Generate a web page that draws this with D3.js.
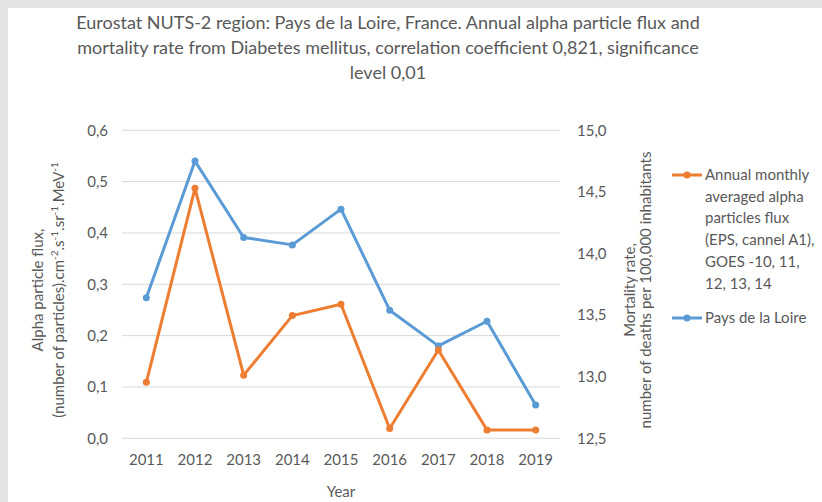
<!DOCTYPE html>
<html>
<head>
<meta charset="utf-8">
<script src="https://cdn.jsdelivr.net/npm/d3@7"></script>
<style>
  body { margin: 0; background: #ffffff; }
  svg text { font-family: Lato, "Open Sans", sans-serif; fill: #595959; }
</style>
</head>
<body>
<div id="chart"></div>
<script>
// DADOS
var years = ["2011", "2012", "2013", "2014", "2015", "2016", "2017", "2018", "2019"];
var alphaFlux = [0.109, 0.487, 0.123, 0.239, 0.261, 0.019, 0.172, 0.016, 0.016];
var mortality = [13.64, 14.75, 14.13, 14.07, 14.36, 13.54, 13.25, 13.45, 12.77];
var leftTicks = [0, 0.1, 0.2, 0.3, 0.4, 0.5, 0.6];
var rightTicks = [12.5, 13.0, 13.5, 14.0, 14.5, 15.0];
var titleLines = [
    "Eurostat NUTS-2 region: Pays de la Loire, France. Annual alpha particle flux and",
    "mortality rate from Diabetes mellitus, correlation coefficient 0,821, significance",
    "level 0,01"
];
var legendOrange = ["Annual monthly", "averaged alpha", "particles flux", "(EPS, cannel A1),", "GOES -10, 11,", "12, 13, 14"];
var legendBlue = "Pays de la Loire";

var W = 822, H = 502;
var orange = "#ED7D31", blue = "#5B9BD5";
var fmt = function (v) { return d3.format(".1f")(v).replace(".", ","); };

let svg = d3.select("#chart").append("svg").attr("width", W).attr("height", H);

// MOLDURA CINZENTA (topo e esquerda)
svg.append("rect").attr("width", W).attr("height", H).attr("fill", "#e3e3e3");
svg.append("rect").attr("x", 8).attr("y", 8).attr("width", W - 8).attr("height", H - 8).attr("fill", "#ffffff");

let plot = { left: 122, right: 560, top: 130.3, bottom: 438.3 };

let x = d3.scaleBand().domain(years).range([plot.left, plot.right]);
let yL = d3.scaleLinear().domain([0, 0.6]).range([plot.bottom, plot.top]);
let yR = d3.scaleLinear().domain([12.5, 15]).range([plot.bottom, plot.top]);

// TITULO
svg.append("g").selectAll("text").data(titleLines).join("text")
    .attr("x", 388)
    .attr("y", function (d, i) { return 29 + i * 25; })
    .attr("text-anchor", "middle")
    .attr("font-size", "18px")
    .text(function (d) { return d; });

// GRELHA
svg.append("g").selectAll("line").data(leftTicks).join("line")
    .attr("x1", plot.left).attr("x2", plot.right)
    .attr("y1", function (d) { return yL(d); }).attr("y2", function (d) { return yL(d); })
    .attr("stroke", "#d9d9d9").attr("stroke-width", 1);

// EIXO ESQUERDO
let axL = svg.append("g").attr("transform", "translate(" + plot.left + ",0)")
    .call(d3.axisLeft(yL).tickValues(leftTicks).tickFormat(fmt).tickSize(0).tickPadding(14));
axL.select(".domain").remove();
axL.selectAll("text").attr("font-size", "15px").style("font-family", "Lato, sans-serif").attr("fill", "#595959");

// EIXO DIREITO
let axR = svg.append("g").attr("transform", "translate(" + plot.right + ",0)")
    .call(d3.axisRight(yR).tickValues(rightTicks).tickFormat(fmt).tickSize(0).tickPadding(17));
axR.select(".domain").remove();
axR.selectAll("text").attr("font-size", "15px").style("font-family", "Lato, sans-serif").attr("fill", "#595959");

// EIXO X
let axX = svg.append("g").attr("transform", "translate(0," + plot.bottom + ")")
    .call(d3.axisBottom(x).tickSize(0).tickPadding(16));
axX.select(".domain").remove();
axX.selectAll("text").attr("font-size", "15px").style("font-family", "Lato, sans-serif").attr("fill", "#595959");

svg.append("text").attr("x", 341).attr("y", 497).attr("text-anchor", "middle")
    .attr("font-size", "15px").text("Year");

// TITULO EIXO ESQUERDO
let tL = svg.append("text").attr("transform", "translate(43,290) rotate(-90)")
    .attr("text-anchor", "middle").attr("font-size", "15px");
tL.append("tspan").attr("x", 0).attr("dy", 0).text("Alpha particle flux,");
let tL2 = tL.append("tspan").attr("x", 0).attr("dy", 21);
tL2.append("tspan").text("(number of particles).cm");
tL2.append("tspan").attr("dy", -6).attr("font-size", "10px").text("-2");
tL2.append("tspan").attr("dy", 6).text(".s");
tL2.append("tspan").attr("dy", -6).attr("font-size", "10px").text("-1");
tL2.append("tspan").attr("dy", 6).text(".sr");
tL2.append("tspan").attr("dy", -6).attr("font-size", "10px").text("-1");
tL2.append("tspan").attr("dy", 6).text(".MeV");
tL2.append("tspan").attr("dy", -6).attr("font-size", "10px").text("-1");

// TITULO EIXO DIREITO
let tR = svg.append("text").attr("transform", "translate(635,290) rotate(-90)")
    .attr("text-anchor", "middle").attr("font-size", "15px");
tR.append("tspan").attr("x", 0).attr("dy", 0).text("Mortality rate,");
tR.append("tspan").attr("x", 0).attr("dy", 16).text("number of deaths per 100,000 inhabitants");

// LINHAS
let cx = function (d, i) { return x(years[i]) + x.bandwidth() / 2; };

let lineL = d3.line().x(cx).y(function (d) { return yL(d); });
let lineR = d3.line().x(cx).y(function (d) { return yR(d); });

svg.append("path").datum(mortality).attr("d", lineR)
    .attr("fill", "none").attr("stroke", blue).attr("stroke-width", 3).attr("stroke-linejoin", "round");
svg.append("g").selectAll("circle").data(mortality).join("circle")
    .attr("cx", cx).attr("cy", function (d) { return yR(d); }).attr("r", 3.5).attr("fill", blue);

svg.append("path").datum(alphaFlux).attr("d", lineL)
    .attr("fill", "none").attr("stroke", orange).attr("stroke-width", 3).attr("stroke-linejoin", "round");
svg.append("g").selectAll("circle").data(alphaFlux).join("circle")
    .attr("cx", cx).attr("cy", function (d) { return yL(d); }).attr("r", 3.5).attr("fill", orange);

// LEGENDA
let leg = svg.append("g");
leg.append("line").attr("x1", 672).attr("x2", 702).attr("y1", 175).attr("y2", 175)
    .attr("stroke", orange).attr("stroke-width", 3);
leg.append("circle").attr("cx", 687).attr("cy", 175).attr("r", 3.5).attr("fill", orange);
leg.append("g").selectAll("text").data(legendOrange).join("text")
    .attr("x", 705).attr("y", function (d, i) { return 180 + i * 21.7; })
    .attr("font-size", "15px").text(function (d) { return d; });

leg.append("line").attr("x1", 672).attr("x2", 702).attr("y1", 318).attr("y2", 318)
    .attr("stroke", blue).attr("stroke-width", 3);
leg.append("circle").attr("cx", 687).attr("cy", 318).attr("r", 3.5).attr("fill", blue);
leg.append("text").attr("x", 705).attr("y", 323).attr("font-size", "15px").text(legendBlue);
</script>
</body>
</html>
